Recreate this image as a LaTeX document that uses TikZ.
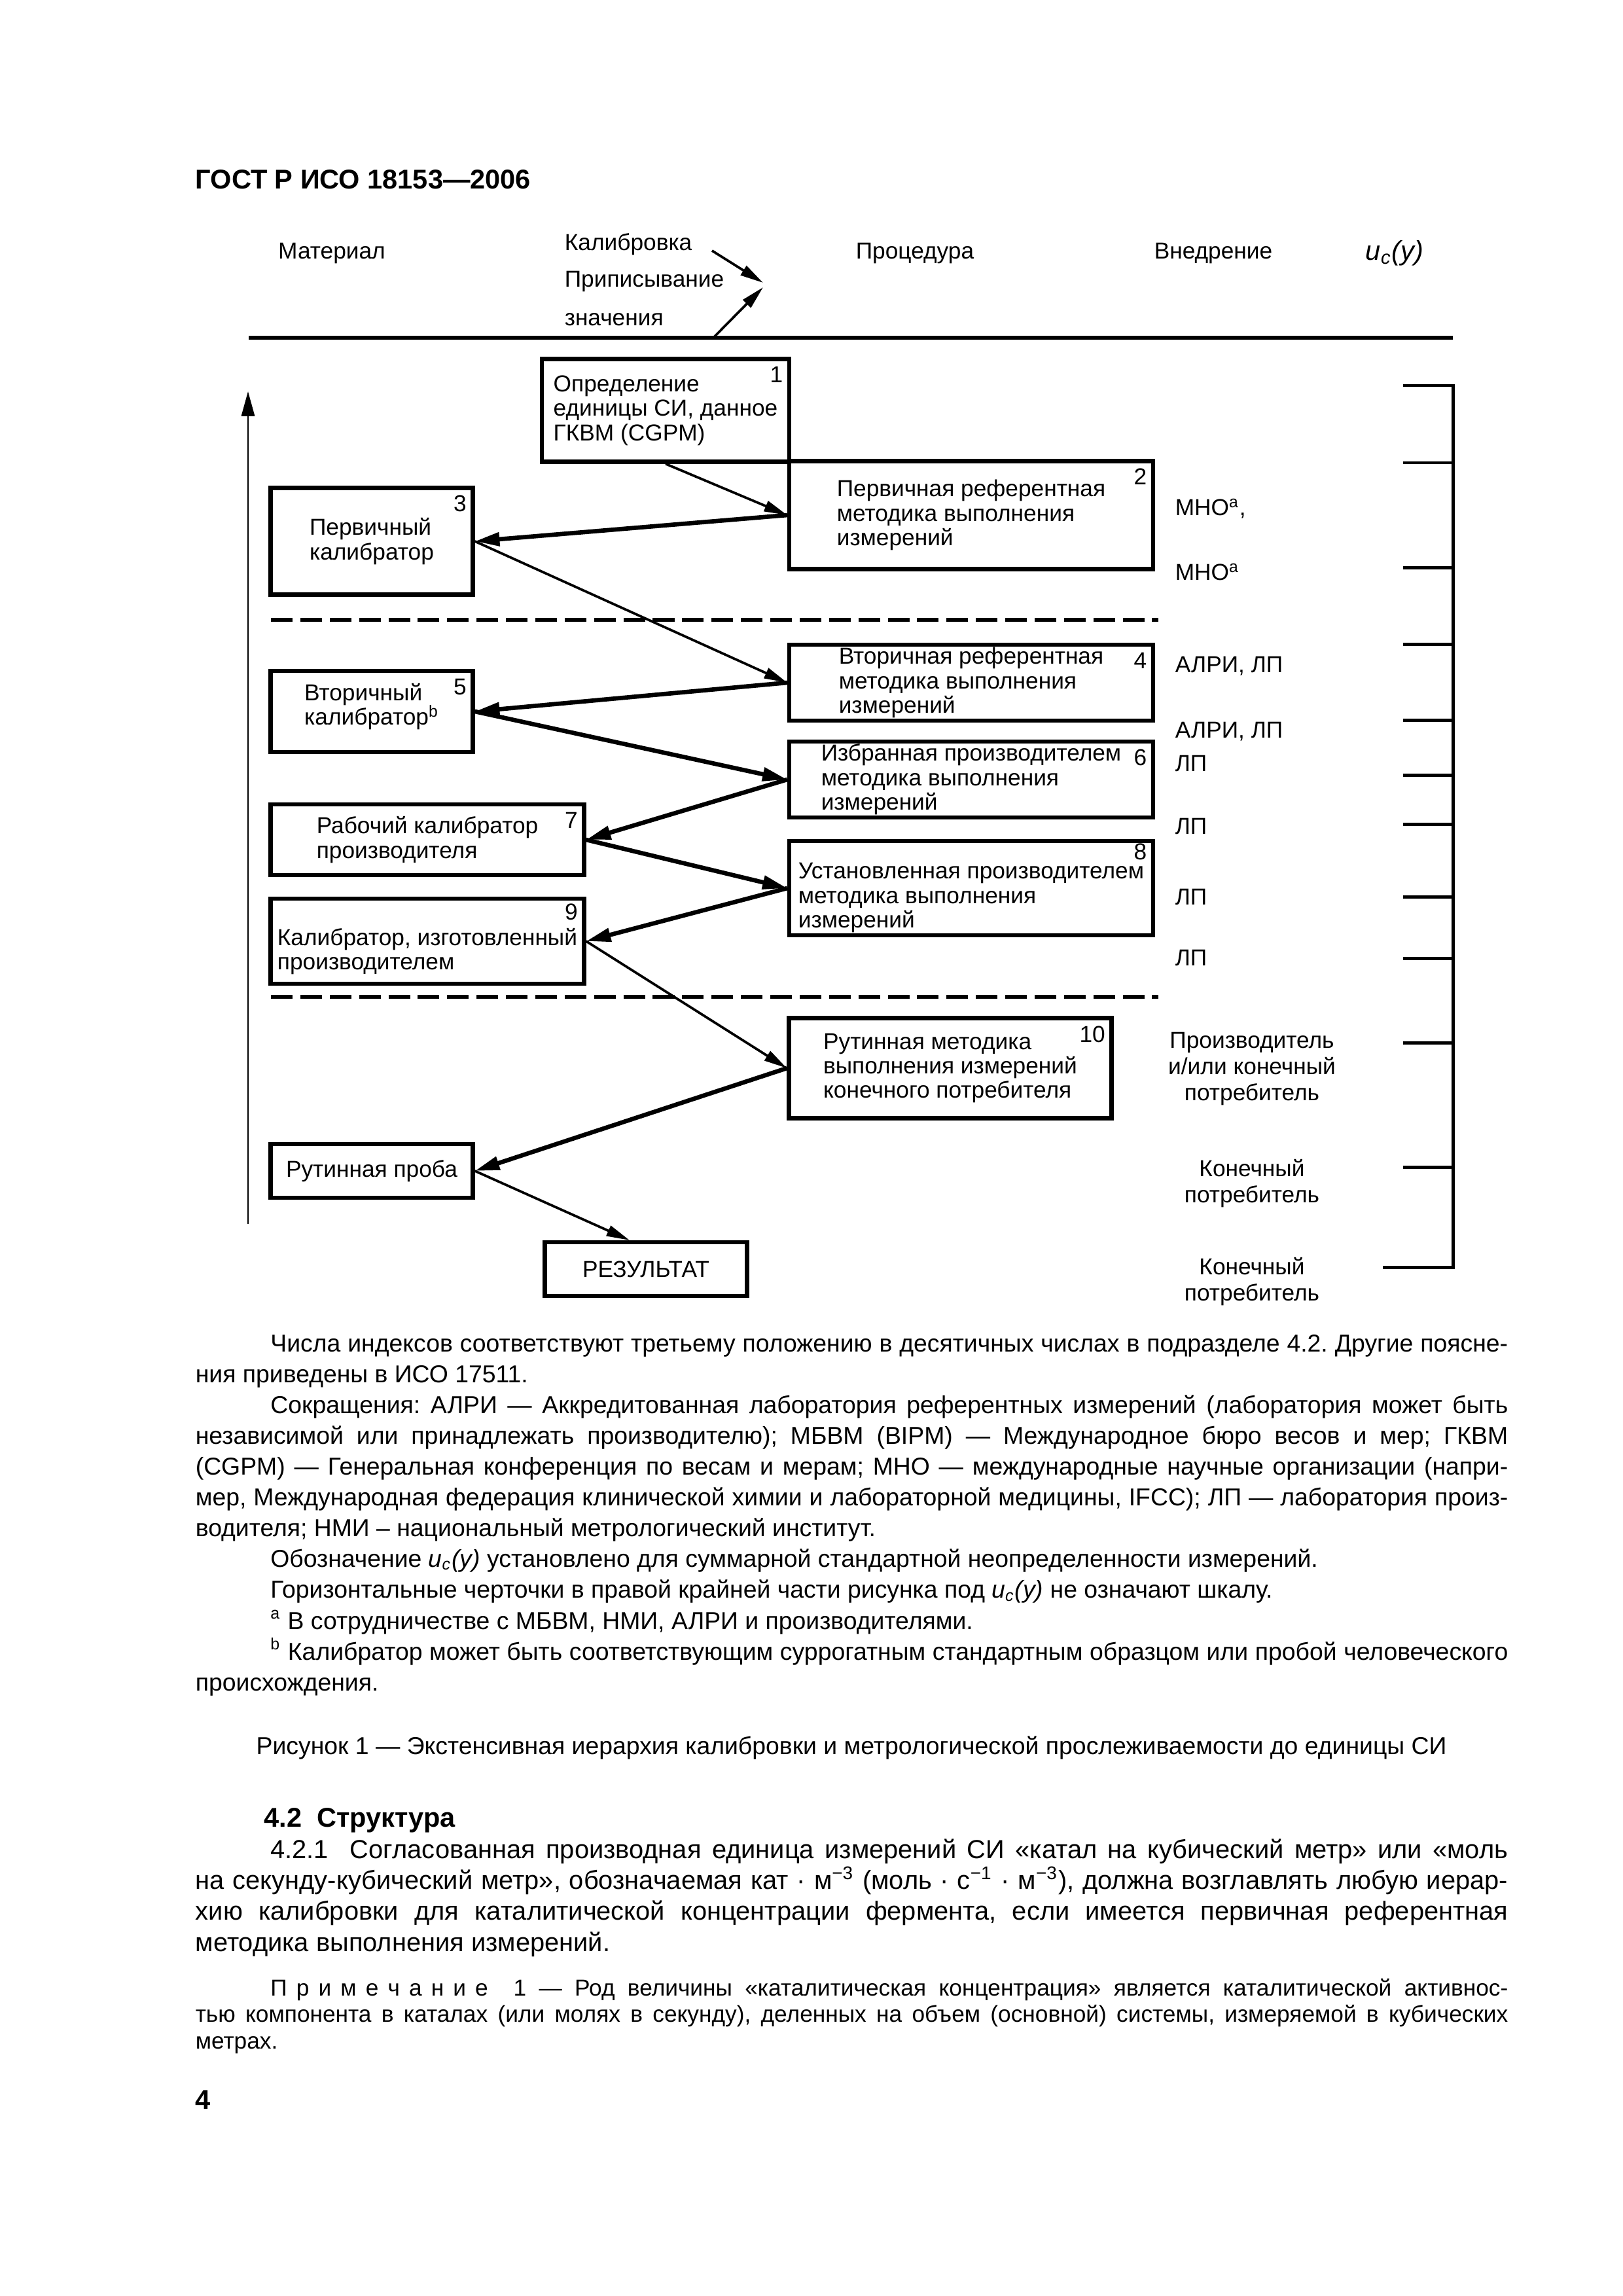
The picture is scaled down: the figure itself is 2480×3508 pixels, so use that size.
\documentclass[tikz,border=0pt]{standalone}
\usepackage{fontspec}
\setmainfont{Liberation Sans}
\usetikzlibrary{arrows.meta,calc}
\frenchspacing
\newlength{\txtw}\setlength{\txtw}{169.8mm}
\newcommand{\jl}[1]{\makebox[\txtw][s]{#1}}
\newcommand{\natsp}{\spaceskip=0pt\xspaceskip=0pt\relax}
\newcommand{\ind}{\hspace*{9.7mm}}
\newcommand{\ucy}{\textit{u}\textsubscript{\textit{c}}\textit{(y)}}
\newcommand{\lk}{\kern3.4pt}
\begin{document}
\begin{tikzpicture}[x=0.0846667mm, y=-0.0846667mm,
  box/.style={draw, line width=1.5pt, inner sep=1pt, align=left, font=\fontsize{8.5}{9}\selectfont},
  num/.style={font=\fontsize{8.5}{9}\selectfont, inner xsep=2.9pt, inner ysep=3.4pt},
  hdr/.style={font=\fontsize{8.5}{10}\selectfont, inner sep=0pt},
  side/.style={font=\fontsize{8.5}{9.6}\selectfont, inner sep=0pt, align=center},
  arr/.style={-{Triangle[length=3mm,width=1.4mm]}, line width=0.9pt},
  arrb/.style={-{Triangle[length=3.2mm,width=1.7mm]}, line width=1.6pt},
  sep/.style={line width=1.4pt, dash pattern=on 2.8mm off 1mm},
  para/.style={inner sep=0pt, align=left, text width=\txtw, anchor=base west}]
\useasboundingbox (0,0) rectangle (2480,3508);
% page head
\node[font=\bfseries\fontsize{10}{12}\selectfont, anchor=base west, inner sep=0pt] (gost) at (298,288) {ГОСТ Р ИСО 18153—2006};
% column labels
\node[hdr] (mat) at (507,387) {Материал};
\node[hdr, anchor=west] (kal) at (862,373) {Калибровка};
\node[hdr, anchor=west] (pri) at (862,430) {Приписывание};
\node[hdr, anchor=west] (zna) at (862,488) {значения};
\node[hdr] (proc) at (1398,387) {Процедура};
\node[hdr] (vne) at (1854,387) {Внедрение};
\node[hdr, font=\fontsize{10}{12}\selectfont] (ucy) at (2131,387) {\ucy};
\draw[line width=1.5pt] (380,516) -- (2220,516);
\coordinate (k1) at (1088,383); \coordinate (k2) at (1166,432);
\coordinate (z1) at (1092,514); \coordinate (z2) at (1166,439);
\draw[arr] (k1) -- (k2); \draw[arr] (z1) -- (z2);
% hierarchy axis
\coordinate (vlo) at (379,1870); \coordinate (vhi) at (379,598);
\draw[-{Triangle[length=3.2mm,width=1.7mm]}, line width=0.7pt] (vlo) -- (vhi);
% boxes, right column
\node[box, minimum width=32mm, minimum height=13.3mm, label={[num,anchor=north east]north east:1}] (b1) at (1017,627) {Определение\\единицы СИ, данное\\ГКВМ (CGPM)};
\node[box, minimum width=47.07mm, minimum height=13.97mm, label={[num,anchor=north east]north east:2}] (b2) at (1484,787) {Первичная референтная\\методика выполнения\\измерений};
\node[box, minimum width=47.07mm, minimum height=9.74mm, label={[num,anchor=north east]north east:4}] (b4) at (1484,1043) {Вторичная референтная\\методика выполнения\\измерений};
\node[box, minimum width=47.07mm, minimum height=9.74mm, label={[num,anchor=north east]north east:6}] (b6) at (1484,1191) {Избранная производителем\\методика выполнения\\измерений};
\node[box, minimum width=47.07mm, minimum height=12.02mm, label={[num,anchor=north east,inner ysep=1.4pt]north east:8}] (b8) at (1484,1357) {\rule{0pt}{13pt}Установленная производителем\\методика выполнения\\измерений};
\node[box, minimum width=41.74mm, minimum height=12.95mm, label={[num,anchor=north east]north east:10}] (b10) at (1452,1632) {Рутинная методика\\выполнения измерений\\конечного потребителя};
% boxes, left column
\node[box, minimum width=26.16mm, minimum height=13.8mm, label={[num,anchor=north east]north east:3}] (b3) at (568,827) {Первичный\\калибратор};
\node[box, minimum width=26.16mm, minimum height=10.5mm, label={[num,anchor=north east]north east:5}] (b5) at (568,1087) {Вторичный\\калибратор\textsuperscript{b}\rule[-5.5pt]{0pt}{0pt}};
\node[box, minimum width=40.56mm, minimum height=9.14mm, label={[num,anchor=north east]north east:7}] (b7) at (653,1283) {Рабочий калибратор\\производителя};
\node[box, minimum width=40.56mm, minimum height=11mm, label={[num,anchor=north east,inner ysep=2.4pt]north east:9}] (b9) at (653,1438) {\rule{0pt}{13.8pt}Калибратор, изготовленный\\производителем};
\node[box, minimum width=26.16mm, minimum height=6.94mm] (prb) at (568,1789) {Рутинная проба};
\node[box, minimum width=26.16mm, minimum height=6.94mm] (rez) at (987,1939) {РЕЗУЛЬТАТ};
% separators
\draw[sep] (414,947) -- (1770,947);
\draw[sep] (414,1523) -- (1770,1523);
% arrows
\draw[arr] (b1.south) -- (b2.west);
\draw[arrb] (b2.west) -- (b3.east);
\draw[arr] (b3.east) -- (b4.west);
\draw[arrb] (b4.west) -- (b5.east);
\draw[arrb] (b5.east) -- (b6.west);
\draw[arrb] (b6.west) -- (b7.east);
\draw[arrb] (b7.east) -- (b8.west);
\draw[arrb] (b8.west) -- (b9.east);
\draw[arr] (b9.east) -- (b10.west);
\draw[arrb] (b10.west) -- (prb.east);
\draw[arr] (prb.east) -- ($(rez.north)+(-25,0)$);
% implementation column
\node[side, anchor=west] (r1) at (1795,777) {МНО\textsuperscript{a},};
\node[side, anchor=west] (r2) at (1795,874) {МНО\textsuperscript{a}};
\node[side, anchor=west] (r3) at (1795,1018) {АЛРИ, ЛП};
\node[side, anchor=west] (r4) at (1795,1118) {АЛРИ, ЛП};
\node[side, anchor=west] (r5) at (1795,1166) {ЛП};
\node[side, anchor=west] (r6) at (1795,1262) {ЛП};
\node[side, anchor=west] (r7) at (1795,1370) {ЛП};
\node[side, anchor=west] (r8) at (1795,1463) {ЛП};
\node[side] (r9) at (1913,1633) {Производитель\\и/или конечный\\потребитель};
\node[side] (r10) at (1913,1808) {Конечный\\потребитель};
\node[side] (r11) at (1913,1958) {Конечный\\потребитель};
% u_c(y) ticks
\draw[line width=1.2pt] (2144,589) -| (2220,1936) -- (2113,1936);
\foreach \ty in {707,867,984,1100,1184,1259,1370,1464,1593,1783}
  \draw[line width=1.2pt] (2144,\ty) -- (2220,\ty);
% text under the figure
\node[para, font=\fontsize{9}{11.35}\selectfont] (notes) at (298,2065) {\natsp
\jl{\ind Числа индексов соответствуют третьему положению в десятичных числах в подразделе 4.2. Другие поясне-}\\
ния приведены в ИСО 17511.\\
\jl{\ind Сокращения: АЛРИ — Аккредитованная лаборатория референтных измерений (лаборатория может быть}\\
\jl{независимой или принадлежать производителю); МБВМ (BIPM) — Международное бюро весов и мер; ГКВМ}\\
\jl{(CGPM) — Генеральная конференция по весам и мерам; МНО — международные научные организации (напри-}\\
\jl{мер, Международная федерация клинической химии и лабораторной медицины, IFCC); ЛП — лаборатория произ-}\\
водителя; НМИ – национальный метрологический институт.\\
\ind Обозначение \ucy{} установлено для суммарной стандартной неопределенности измерений.\\
\ind Горизонтальные черточки в правой крайней части рисунка под \ucy{} не означают шкалу.\\
\ind\textsuperscript{a} В сотрудничестве с МБВМ, НМИ, АЛРИ и производителями.\\
\jl{\ind\textsuperscript{b} Калибратор может быть соответствующим суррогатным стандартным образцом или пробой человеческого}\\
происхождения.};
\node[font=\fontsize{9}{11}\selectfont, anchor=base, inner sep=0pt] (cap) at (1301,2680) {Рисунок 1 — Экстенсивная иерархия калибровки и метрологической прослеживаемости до единицы СИ};
\node[font=\bfseries\fontsize{10}{12}\selectfont, anchor=base west, inner sep=0pt] (sec) at (403,2791) {4.2\ \ Структура};
\node[para, font=\fontsize{9.6}{11.4}\selectfont] (body) at (298,2839) {\natsp
\jl{\ind 4.2.1\ \ Согласованная производная единица измерений СИ «катал на кубический метр» или «моль}\\
\jl{на секунду-кубический метр», обозначаемая кат · м\textsuperscript{−3} (моль · с\textsuperscript{−1} · м\textsuperscript{−3}), должна возглавлять любую иерар-}\\
\jl{хию калибровки для каталитической концентрации фермента, если имеется первичная референтная}\\
методика выполнения измерений.};
\node[para, font=\fontsize{8.5}{9.8}\selectfont] (note) at (298,3049) {\natsp
\jl{\ind П\lk р\lk и\lk м\lk е\lk ч\lk а\lk н\lk и\lk е\ \ 1 — Род величины «каталитическая концентрация» является каталитической активнос-}\\
\jl{тью компонента в каталах (или молях в секунду), деленных на объем (основной) системы, измеряемой в кубических}\\
метрах.};
\node[font=\bfseries\fontsize{10}{12}\selectfont, anchor=base west, inner sep=0pt] (pg) at (298,3222) {4};
\end{tikzpicture}
\end{document}
